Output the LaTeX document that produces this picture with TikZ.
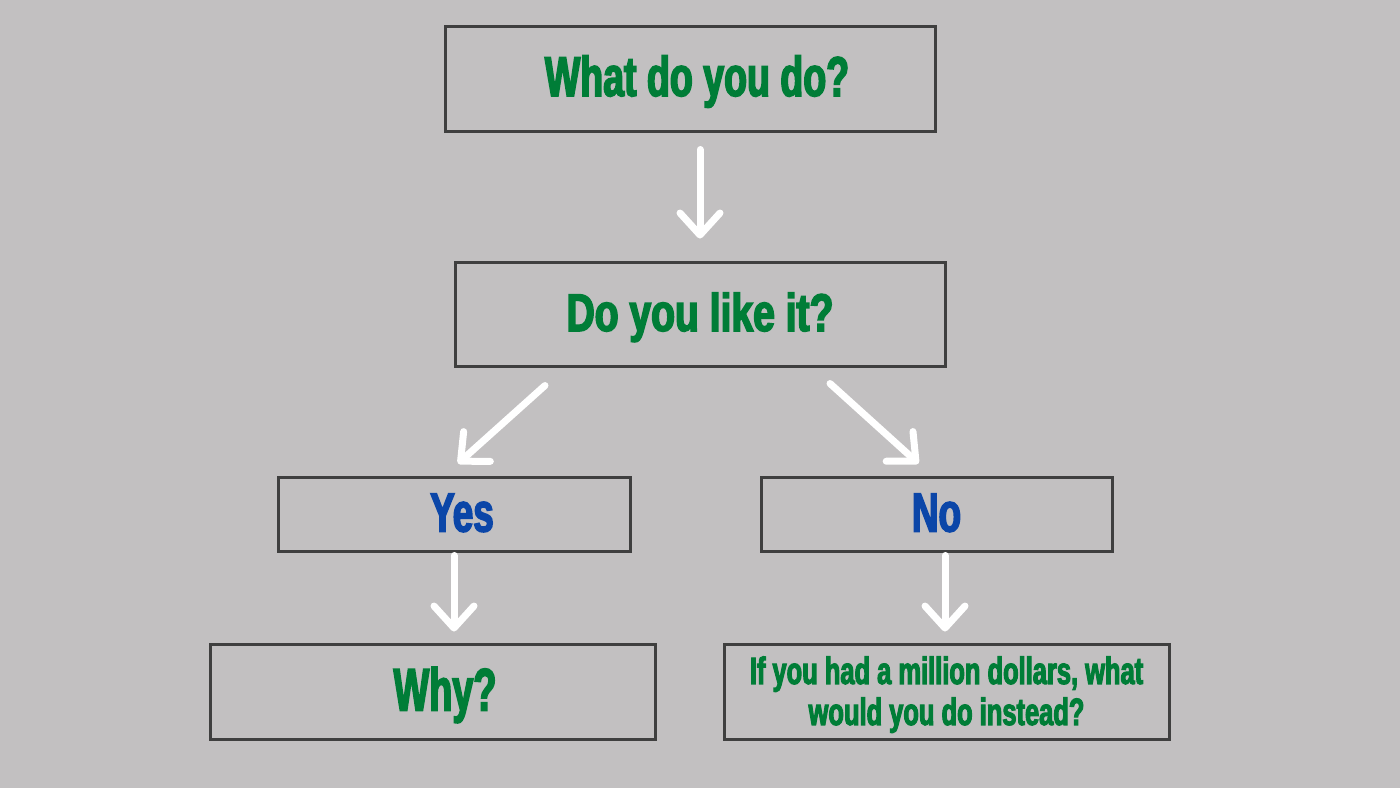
\documentclass[tikz,border=0pt]{standalone}
\usepackage{fontspec}
\usetikzlibrary{arrows.meta,calc}
\newfontfamily\cond{Liberation Sans}[FakeStretch=0.67,FakeBold=2.8]
\definecolor{bg}{HTML}{C2C0C1}
\definecolor{boxline}{HTML}{3F3F3F}
\definecolor{tgreen}{HTML}{007D37}
\definecolor{tblue}{HTML}{0B46A8}
\tikzset{
  box/.style={draw=boxline, line width=3pt, rectangle, inner sep=0pt, align=center, font=\cond\bfseries, text depth=0pt},
  arr/.style={draw=white, line width=7pt, line cap=round, -{Straight Barb[length=22pt,width=40pt,line cap=round,line join=round]}},
}
\begin{document}
\begin{tikzpicture}[x=1pt,y=-1pt]
\fill[bg] (0,0) rectangle (1400,788);
\useasboundingbox (0,0) rectangle (1400,788);
\node[box, minimum width=490pt, minimum height=105pt, text=tgreen, text height=35pt, font=\cond\bfseries\fontsize{56}{60}\selectfont] (q1) at (690,78.5) {\hspace*{14pt}What do you do?};
\node[box, minimum width=490pt, minimum height=104pt, text=tgreen, text height=34pt, font=\cond\bfseries\fontsize{53}{58}\selectfont] (q2) at (700,314) {\scalebox{1.1}[1]{Do you like it?}};
\node[box, minimum width=352pt, minimum height=74pt, text=tblue, text height=35pt, font=\cond\bfseries\fontsize{55}{60}\selectfont] (yes) at (454,514) {\hspace*{16pt}Yes};
\node[box, minimum width=351pt, minimum height=74pt, text=tblue, text height=35pt, font=\cond\bfseries\fontsize{55}{60}\selectfont] (no) at (936.5,514) {No};
\node[box, minimum width=445pt, minimum height=95pt, text=tgreen, text height=38pt, font=\cond\bfseries\fontsize{60}{64}\selectfont] (why) at (432.5,691.5) {\hspace*{25pt}\scalebox{0.94}[1]{Why?}};
\node[box, minimum width=445pt, minimum height=95pt, text=tgreen, text height=0pt, font=\cond\bfseries\fontsize{38}{41}\selectfont] (mil) at (946.5,691.5) {\raisebox{-11pt}[0pt][0pt]{\begin{tabular}{@{}c@{}}If you had a million dollars, what\\would you do instead?\end{tabular}}};
\coordinate (nos) at ([xshift=8.5pt,yshift=-3pt]no.south);
\coordinate (yss) at ([yshift=-3pt]yes.south);
\draw[arr] ([xshift=10pt,yshift=-17pt]q1.south) -- ([yshift=22pt]q2.north);
\draw[arr] ([xshift=-155pt,yshift=-18pt]q2.south) -- ([xshift=4pt,yshift=12pt]yes.north);
\draw[arr] ([xshift=130pt,yshift=-16pt]q2.south) -- ([xshift=-18pt,yshift=12pt]no.north);
\draw[arr] (yss) -- ([yshift=11pt]yss |- why.north);
\draw[arr] (nos) -- ([yshift=11pt]nos |- mil.north);
\end{tikzpicture}
\end{document}
